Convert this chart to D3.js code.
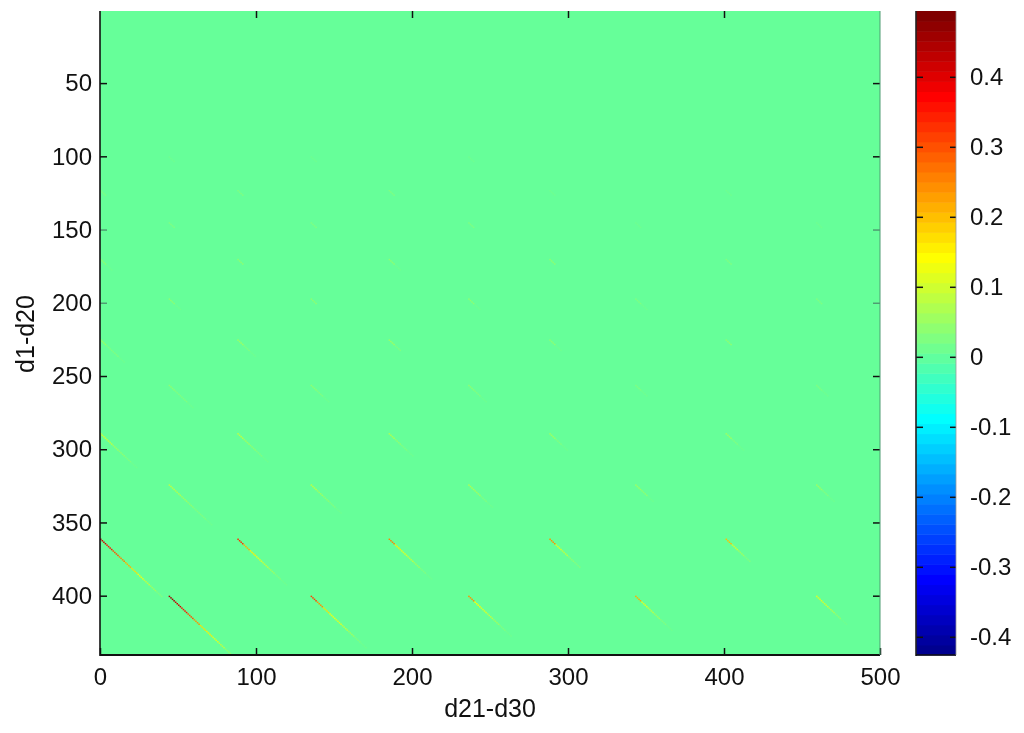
<!DOCTYPE html>
<html>
<head>
<meta charset="utf-8">
<script src="https://cdn.jsdelivr.net/npm/d3@7"></script>
<style>
html, body { margin: 0; padding: 0; background: #fff; }
svg { display: block; }
text { font-family: "Liberation Sans", Arial, sans-serif; fill: #111; }
</style>
</head>
<body>
<script>
var w = 1024;
var h = 733;

var xTicks = [0, 100, 200, 300, 400, 500];
var yTicks = [50, 100, 150, 200, 250, 300, 350, 400];
var colorTicks = [-0.4, -0.3, -0.2, -0.1, 0, 0.1, 0.2, 0.3, 0.4];
var xExtent = [0, 500];
var yExtent = [0.5, 440.5];
var colorExtent = [-0.426, 0.494];

// streak start positions, values along the diagonal are read every 4 cells
var streakCols = [
    0, 88, 185, 288, 401,
    44, 135, 236, 343, 459,
    44, 135, 236, 343, 459,
    0, 88, 185, 288, 401,
    44, 135, 236, 343, 459,
    0, 88, 185, 288, 401,
    44, 135, 236, 343, 459,
    0, 88, 185, 288, 401,
    44, 135, 236, 343, 459,
    0, 88, 185, 288, 401,
    44, 135, 236
];
var streakRows = [
    361, 361, 361, 361, 361,
    400, 400, 400, 400, 400,
    324, 324, 324, 324, 324,
    289, 289, 289, 289, 289,
    256, 256, 256, 256, 256,
    225, 225, 225, 225, 225,
    197, 197, 197, 197, 197,
    170, 170, 170, 170, 170,
    145, 145, 145, 145, 145,
    123, 123, 123, 123, 123,
    100, 100, 100
];
var streakValues = [
    [.42, .36, .30, .26, .22, .17, .13, .09, .06, .03],
    [.33, .22, .15, .12, .09, .06, .03, .015],
    [.26, .15, .12, .09, .06, .03, .015],
    [.24, .12, .08, .04, .02],
    [.20, .10, .05, .02],
    [.46, .42, .36, .30, .24, .17, .15, .12, .08, .04],
    [.32, .24, .17, .13, .11, .08, .05, .03, .015],
    [.24, .14, .11, .08, .05, .03, .015],
    [.22, .12, .08, .05, .03, .015],
    [.12, .10, .07, .04, .015],
    [.09, .07, .05, .04, .03, .02, .012],
    [.08, .06, .04, .025, .012],
    [.07, .05, .03, .012],
    [.05, .035, .015],
    [.05, .03, .012],
    [.10, .08, .05, .035, .02, .012],
    [.08, .06, .035, .02, .012],
    [.07, .04, .025, .012],
    [.05, .03, .015],
    [.05, .03, .012],
    [.04, .03, .02, .012],
    [.04, .025, .012],
    [.04, .025, .012],
    [.03, .015],
    [.03, .012],
    [.05, .03, .02, .012],
    [.05, .03, .012],
    [.05, .02],
    [.04, .015],
    [.04],
    [.035, .015],
    [.035],
    [.035, .012],
    [.03, .012],
    [.025],
    [.04, .015],
    [.04],
    [.04, .012],
    [.035],
    [.03],
    [.025],
    [.025],
    [.025],
    [.012],
    [.012],
    [.02],
    [.02],
    [.02],
    [.012],
    [.012],
    [.015],
    [.015],
    [.015]
];

// matlab jet, 64 levels
function jetChannel(t) {
    return Math.round(255 * Math.max(0, Math.min(1, t)));
}
var jet = d3.range(64).map(function(i) {
    var k = (i + 1) / 16;
    return d3.rgb(
        jetChannel(Math.min(k - 1.5, 4.5 - k)),
        jetChannel(Math.min(k - 0.5, 3.5 - k)),
        jetChannel(Math.min(k + 0.5, 2.5 - k))
    ).formatHex();
});

var xScale = d3.scaleLinear().domain(xExtent).range([100, 880]);
var yScale = d3.scaleLinear().domain(yExtent).range([10.6, 655]);
var colorY = d3.scaleLinear().domain(colorExtent).range([655, 11]);
var color = d3.scaleQuantize().domain(colorExtent).range(jet);

var svg = d3.select("body")
    .append("svg")
    .attr("width", w)
    .attr("height", h);

var defs = svg.append("defs");
defs.append("filter")
    .attr("id", "soft")
    .attr("filterUnits", "userSpaceOnUse")
    .attr("color-interpolation-filters", "sRGB")
    .attr("x", 0).attr("y", 0).attr("width", w).attr("height", h)
    .append("feGaussianBlur")
    .attr("stdDeviation", 0.45);
defs.append("clipPath")
    .attr("id", "plotClip")
    .append("rect")
    .attr("x", 100).attr("y", 11)
    .attr("width", 780).attr("height", 644);

var root = svg.append("g").attr("filter", "url(#soft)");

root.append("rect")
    .attr("x", xScale(xExtent[0]))
    .attr("y", 11)
    .attr("width", xScale(xExtent[1]) - xScale(xExtent[0]))
    .attr("height", 644)
    .attr("fill", "#66ff99");

// flatten the streaks to cells, each value covers 4 diagonal steps
var cells = [];
streakValues.forEach(function(vals, s) {
    vals.forEach(function(v, j) {
        d3.range(4).forEach(function(step) {
            var n = j * 4 + step;
            cells.push({col: streakCols[s] + n, row: streakRows[s] + n, v: v});
        });
    });
});

root.append("g")
    .attr("clip-path", "url(#plotClip)")
    .selectAll("rect")
    .data(cells)
    .enter()
    .append("rect")
    .attr("x", function(d) { return xScale(d.col); })
    .attr("y", function(d) { return yScale(d.row); })
    .attr("width", xScale(1) - xScale(0))
    .attr("height", yScale(1) - yScale(0))
    .attr("fill", function(d) { return color(d.v); });

// axes, matlab style ticks pointing inwards
function styleAxis(g) {
    g.select(".domain").remove();
    g.selectAll("line").attr("stroke", "#111").attr("stroke-width", 1.5);
    g.selectAll("text").attr("font-size", "24px").style("fill", "#111");
}

root.append("g")
    .attr("transform", "translate(0,655)")
    .call(d3.axisBottom(xScale).tickValues(xTicks).tickFormat(d3.format("d")).tickSize(-7).tickPadding(13))
    .call(styleAxis);
root.append("g")
    .attr("transform", "translate(0,11)")
    .call(d3.axisTop(xScale).tickValues(xTicks.slice(1, 5)).tickFormat("").tickSize(-7))
    .call(styleAxis);
var leftAxis = root.append("g")
    .attr("transform", "translate(100,0)")
    .call(d3.axisLeft(yScale).tickValues(yTicks).tickSize(-7).tickPadding(8))
    .call(styleAxis);
var rightAxis = root.append("g")
    .attr("transform", "translate(880,0)")
    .call(d3.axisRight(yScale).tickValues(yTicks).tickFormat("").tickSize(-7))
    .call(styleAxis);

// the 150 and 200 ticks come out washed in the picture
[leftAxis, rightAxis].forEach(function(axis) {
    axis.selectAll("g.tick")
        .filter(function(d) { return d === 150 || d === 200; })
        .select("line")
        .attr("stroke", "#4f9c72");
});

root.append("line")
    .attr("x1", 100).attr("x2", 100).attr("y1", 11).attr("y2", 656)
    .attr("stroke", "#111").attr("stroke-width", 1.6);
root.append("line")
    .attr("x1", 100).attr("x2", 880).attr("y1", 655).attr("y2", 655)
    .attr("stroke", "#111").attr("stroke-width", 1.8);
root.append("line")
    .attr("x1", 880).attr("x2", 880).attr("y1", 11).attr("y2", 655)
    .attr("stroke", "#4f9c72").attr("stroke-width", 1);

// colorbar
var band = (colorExtent[1] - colorExtent[0]) / jet.length;
root.append("g")
    .selectAll("rect")
    .data(jet)
    .enter()
    .append("rect")
    .attr("x", 916)
    .attr("width", 40)
    .attr("y", function(d, i) { return colorY(colorExtent[0] + (i + 1) * band); })
    .attr("height", colorY(0) - colorY(band) + 0.5)
    .attr("fill", function(d) { return d; });

root.append("g")
    .attr("transform", "translate(956,0)")
    .call(d3.axisRight(colorY).tickValues(colorTicks).tickSize(-6).tickPadding(14).tickFormat(function(d) { return String(d); }))
    .call(styleAxis);
root.append("g")
    .attr("transform", "translate(916,0)")
    .call(d3.axisLeft(colorY).tickValues(colorTicks).tickSize(-7).tickFormat(""))
    .call(styleAxis);

root.append("line")
    .attr("x1", 916).attr("x2", 916).attr("y1", 11).attr("y2", 656)
    .attr("stroke", "#222").attr("stroke-width", 1.6);
root.append("line")
    .attr("x1", 916).attr("x2", 956).attr("y1", 655).attr("y2", 655)
    .attr("stroke", "#111").attr("stroke-width", 1.6);
root.append("line")
    .attr("x1", 956).attr("x2", 956).attr("y1", 11).attr("y2", 655)
    .attr("stroke", "#999").attr("stroke-width", 0.8);

root.append("text")
    .attr("x", 490)
    .attr("y", 717)
    .attr("text-anchor", "middle")
    .attr("font-size", "25px")
    .text("d21-d30");
root.append("text")
    .attr("transform", "translate(34,334) rotate(-90)")
    .attr("text-anchor", "middle")
    .attr("font-size", "25px")
    .text("d1-d20");
</script>
</body>
</html>
